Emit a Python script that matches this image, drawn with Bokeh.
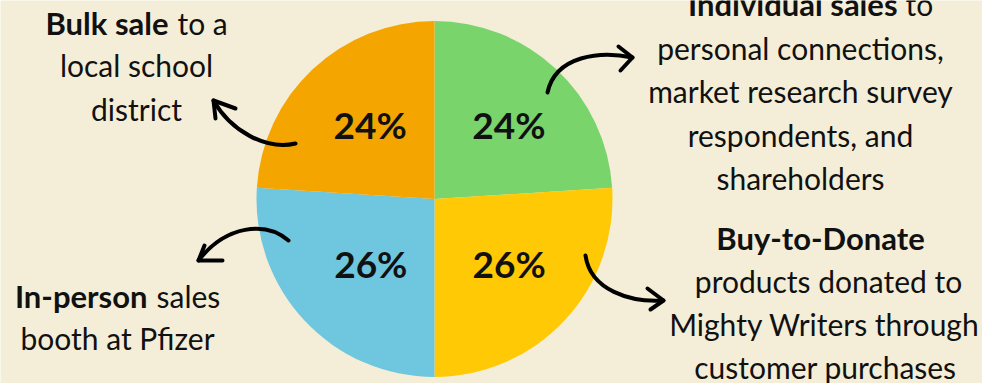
import math
from bokeh.plotting import figure
from bokeh.models import Range1d, ColumnDataSource
from bokeh.core.properties import value
from bokeh.embed import file_html
from bokeh.resources import INLINE

# ---- data ----
categories = ["Individual sales", "Buy-to-Donate", "In-person sales", "Bulk sale"]
shares = [24, 26, 26, 24]
colors = ["#79D46C", "#FFC906", "#6EC6DF", "#F5A500"]
pct_labels = ["24%", "26%", "26%", "24%"]

W, H = 982, 383
BG = "#F4EED8"
FONT = "Lato"


def Y(y):
    return H - y


p = figure(width=W, height=H, output_backend="svg", toolbar_location=None,
           x_range=Range1d(0, W), y_range=Range1d(0, H), min_border=0,
           background_fill_color=BG, border_fill_color=BG, outline_line_color=None)
p.axis.visible = False
p.grid.visible = False

# ---- pie ----
cx, cy, r = 434, Y(198.5), 178
total = sum(shares)
starts, ends, mids = [], [], []
a = math.pi / 2
for s in shares:
    da = 2 * math.pi * s / total
    starts.append(a)
    ends.append(a - da)
    mids.append(a - da / 2)
    a -= da
src = ColumnDataSource(dict(start=starts, end=ends, color=colors))
p.wedge(x=cx, y=cy, radius=r, start_angle="start", end_angle="end",
        direction="clock", fill_color="color", line_color=None, source=src)

lr = 97
label_dx = [8, 4, 7, 2]
label_dy = [4, 2, 2, 4]
lx = [cx + lr * math.cos(m) + d for m, d in zip(mids, label_dx)]
ly = [cy + lr * math.sin(m) + d for m, d in zip(mids, label_dy)]
p.text(x=lx, y=ly, text=pct_labels, text_font=value(FONT), text_font_style="bold",
       text_font_size="37px", text_align="center", text_baseline="middle", text_color="#111111")

# ---- annotation text ----
def line(x, y, t, bold=False, align="center"):
    p.text(x=[x], y=[Y(y)], text=[t], text_font=value(FONT),
           text_font_style="bold" if bold else "normal",
           text_font_size="31px" if bold else "30px",
           text_align=align, text_baseline="middle", text_color="#111111")

# top-left
line(168, 22, "Bulk sale", bold=True, align="right")
line(177, 22, "to a", align="left")
line(136, 64, "local school")
line(136, 108, "district")

# top-right
line(897, 3, "Individual sales", bold=True, align="right")
line(905, 3, "to", align="left")
line(800, 47, "personal connections,")
line(800, 90, "market research survey")
line(800, 134, "respondents, and")
line(800, 177, "shareholders")

# bottom-left
line(147, 295, "In-person", bold=True, align="right")
line(156, 295, "sales", align="left")
line(117, 337, "booth at Pfizer")

# bottom-right
line(820, 237, "Buy-to-Donate", bold=True)
line(828, 280, "products donated to")
line(824, 323, "Mighty Writers through")
line(825, 366, "customer purchases")

# ---- arrows ----
curves = [
    # x0, y0, cx0, cy0, cx1, cy1, x1, y1
    (295, 143, 265, 150, 230, 130, 213, 100),
    (288, 240, 265, 220, 225, 225, 198, 260),
    (547, 92, 555, 55, 600, 50, 632, 57),
    (585, 255, 590, 290, 630, 302, 663, 300),
]
heads = [
    [(235, 108), (213, 100), (215, 118)],
    [(222, 260), (198, 260), (204, 245)],
    [(618, 46), (632, 57), (620, 70)],
    [(647, 288), (663, 300), (650, 309)],
]
p.bezier(x0=[c[0] for c in curves], y0=[Y(c[1]) for c in curves],
         cx0=[c[2] for c in curves], cy0=[Y(c[3]) for c in curves],
         cx1=[c[4] for c in curves], cy1=[Y(c[5]) for c in curves],
         x1=[c[6] for c in curves], y1=[Y(c[7]) for c in curves],
         line_color="black", line_width=4, line_cap="round")
p.multi_line(xs=[[pt[0] for pt in h] for h in heads], ys=[[Y(pt[1]) for pt in h] for h in heads],
             line_color="black", line_width=4, line_cap="round", line_join="round")

open("out.html", "w").write(file_html(p, INLINE))
